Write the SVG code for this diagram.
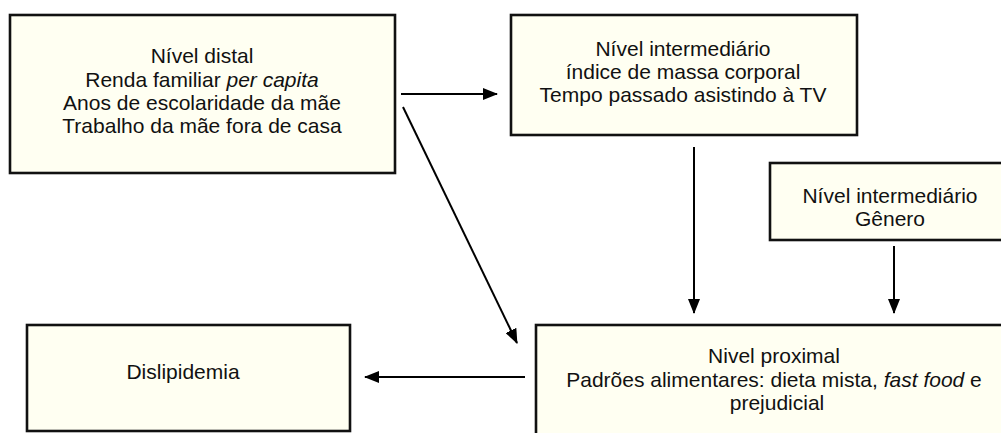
<svg xmlns="http://www.w3.org/2000/svg" width="1001" height="433" viewBox="0 0 1001 433">
<style>
.box{fill:#FFFFF2;stroke:#111;stroke-width:2.6}
.t{font-family:"Liberation Sans",Arial,Helvetica,sans-serif;font-size:21px;fill:#111;text-anchor:middle}
.c{stroke:#000;stroke-width:2;fill:none;marker-end:url(#ah)}
</style>
<defs>
<marker id="ah" markerUnits="userSpaceOnUse" markerWidth="16" markerHeight="12" refX="14" refY="6" orient="auto">
<path d="M0,0 L15,6 L0,12 z" fill="#000"/>
</marker>
</defs>
<rect width="1001" height="433" fill="#fff"/>
<g id="distal">
<rect class="box" x="10" y="15" width="385" height="158"/>
<text class="t" x="202" y="63">Nível distal</text>
<text class="t" x="202" y="86.5">Renda familiar <tspan font-style="italic">per capita</tspan></text>
<text class="t" x="202" y="110">Anos de escolaridade da mãe</text>
<text class="t" x="202" y="133.3">Trabalho da mãe fora de casa</text>
</g>
<g id="intermediario1">
<rect class="box" x="511" y="15" width="346" height="120"/>
<text class="t" x="683" y="56">Nível intermediário</text>
<text class="t" x="683" y="79">índice de massa corporal</text>
<text class="t" x="683" y="102">Tempo passado asistindo à TV</text>
</g>
<g id="intermediario2">
<rect class="box" x="770" y="163" width="245" height="77"/>
<text class="t" x="890" y="203">Nível intermediário</text>
<text class="t" x="890" y="226">Gênero</text>
</g>
<g id="dislipidemia">
<rect class="box" x="27" y="325" width="323" height="106"/>
<text class="t" x="183" y="379">Dislipidemia</text>
</g>
<g id="proximal">
<rect class="box" x="536" y="325" width="480" height="130"/>
<text class="t" x="774" y="363">Nivel proximal</text>
<text class="t" x="774" y="386.5">Padrões alimentares: dieta mista, <tspan font-style="italic">fast food</tspan> e</text>
<text class="t" x="777" y="410">prejudicial</text>
</g>
<g id="connectors">
<line class="c" x1="401" y1="94" x2="497" y2="94"/>
<line class="c" x1="403" y1="107" x2="517" y2="343"/>
<line class="c" x1="694" y1="147" x2="694" y2="313"/>
<line class="c" x1="894" y1="246" x2="894" y2="313"/>
<line class="c" x1="525" y1="377" x2="365" y2="377"/>
</g>
</svg>
